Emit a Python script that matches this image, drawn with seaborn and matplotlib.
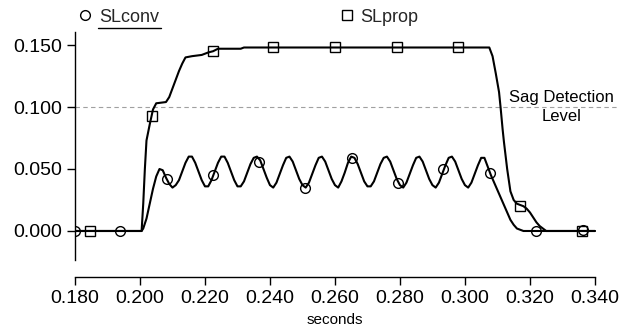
import numpy as np
import pandas as pd
import matplotlib
matplotlib.use("Agg")
import matplotlib.pyplot as plt
import seaborn as sns
from matplotlib.lines import Line2D
from matplotlib.ticker import FormatStrFormatter

# SLconv trace (seconds, value)
conv_t = [0.180, 0.200, 0.2005, 0.201, 0.202, 0.203, 0.204, 0.205, 0.206, 0.207,
          0.208, 0.209, 0.210, 0.211, 0.212, 0.213, 0.214, 0.215, 0.216, 0.217,
          0.218, 0.219, 0.220, 0.221, 0.222, 0.223, 0.224, 0.225, 0.226, 0.227,
          0.228, 0.229, 0.230, 0.231, 0.232, 0.233, 0.234, 0.235, 0.236, 0.237,
          0.238, 0.239, 0.240, 0.241, 0.242, 0.243, 0.244, 0.245, 0.246, 0.247,
          0.248, 0.249, 0.250, 0.251, 0.252, 0.253, 0.254, 0.255, 0.256, 0.257,
          0.258, 0.259, 0.260, 0.261, 0.262, 0.263, 0.264, 0.265, 0.266, 0.267,
          0.268, 0.269, 0.270, 0.271, 0.272, 0.273, 0.274, 0.275, 0.276, 0.277,
          0.278, 0.279, 0.280, 0.281, 0.282, 0.283, 0.284, 0.285, 0.286, 0.287,
          0.288, 0.289, 0.290, 0.291, 0.292, 0.293, 0.294, 0.295, 0.296, 0.297,
          0.298, 0.299, 0.300, 0.301, 0.302, 0.303, 0.304, 0.305, 0.306, 0.307,
          0.308, 0.309, 0.310, 0.311, 0.312, 0.313, 0.314, 0.315, 0.316, 0.317,
          0.318, 0.340]
conv_v = [0.000, 0.000, 0.000, 0.002, 0.010, 0.022, 0.034, 0.044, 0.050, 0.049,
          0.043, 0.038, 0.035, 0.037, 0.041, 0.048, 0.055, 0.060, 0.060, 0.055,
          0.048, 0.041, 0.036, 0.036, 0.041, 0.048, 0.055, 0.060, 0.060, 0.055,
          0.048, 0.041, 0.036, 0.036, 0.040, 0.047, 0.054, 0.059, 0.060, 0.057,
          0.050, 0.043, 0.037, 0.035, 0.039, 0.046, 0.053, 0.059, 0.060, 0.056,
          0.049, 0.042, 0.037, 0.035, 0.039, 0.046, 0.053, 0.059, 0.060, 0.056,
          0.049, 0.042, 0.037, 0.035, 0.040, 0.047, 0.055, 0.060, 0.059, 0.054,
          0.047, 0.040, 0.036, 0.036, 0.040, 0.047, 0.054, 0.059, 0.060, 0.056,
          0.049, 0.042, 0.037, 0.035, 0.039, 0.046, 0.053, 0.059, 0.060, 0.056,
          0.049, 0.042, 0.037, 0.035, 0.039, 0.046, 0.053, 0.059, 0.060, 0.056,
          0.049, 0.042, 0.037, 0.035, 0.039, 0.046, 0.053, 0.059, 0.059, 0.052,
          0.045, 0.039, 0.033, 0.027, 0.021, 0.015, 0.009, 0.005, 0.002, 0.001,
          0.000, 0.000]

# SLprop trace
prop_t = [0.180, 0.2005, 0.201, 0.2015, 0.202, 0.203, 0.204, 0.205, 0.208, 0.209,
          0.210, 0.211, 0.212, 0.213, 0.214, 0.216, 0.219, 0.221, 0.2225, 0.224,
          0.231, 0.232, 0.3075, 0.3085, 0.3095, 0.3105, 0.311, 0.3116, 0.312, 0.313,
          0.314, 0.315, 0.316, 0.317, 0.318, 0.319, 0.320, 0.321, 0.322, 0.323,
          0.324, 0.325, 0.340]
prop_v = [0.000, 0.000, 0.022, 0.050, 0.073, 0.086, 0.098, 0.103, 0.104, 0.108,
          0.115, 0.122, 0.129, 0.135, 0.140, 0.141, 0.142, 0.144, 0.145, 0.147,
          0.147, 0.148, 0.148, 0.141, 0.127, 0.112, 0.099, 0.082, 0.072, 0.050,
          0.032, 0.025, 0.022, 0.021, 0.020, 0.018, 0.015, 0.011, 0.007, 0.004,
          0.002, 0.000, 0.000]

# marker symbols on the traces
conv_mark_t = [0.180, 0.194, 0.2082, 0.2226, 0.2366, 0.2509, 0.2651, 0.2793, 0.2933, 0.3077, 0.3220, 0.3362]
conv_mark_v = [0.000, 0.000, 0.042, 0.045, 0.056, 0.035, 0.059, 0.039, 0.050, 0.047, 0.000, 0.001]
prop_mark_t = [0.1845, 0.2036, 0.2225, 0.2409, 0.2600, 0.2790, 0.2980, 0.3169, 0.3360]
prop_mark_v = [0.000, 0.093, 0.145, 0.148, 0.148, 0.148, 0.148, 0.020, 0.000]

sag_level = 0.100
x_ticks = [0.18, 0.20, 0.22, 0.24, 0.26, 0.28, 0.30, 0.32, 0.34]
y_ticks = [0.000, 0.050, 0.100, 0.150]

sns.set_style("ticks")
plt.rcParams['font.family'] = ['Liberation Sans', 'DejaVu Sans']

W, H = 631, 330
fig = plt.figure(figsize=(W / 100, H / 100), dpi=100)
ax = fig.add_axes([75 / W, 1 - 260 / H, (617 - 75) / W, (260 - 32) / H])

df_conv = pd.DataFrame({'t': conv_t, 'v': conv_v})
df_prop = pd.DataFrame({'t': prop_t, 'v': prop_v})
sns.lineplot(data=df_conv, x='t', y='v', ax=ax, color='black', lw=1.5,
             estimator=None, sort=False)
sns.lineplot(data=df_prop, x='t', y='v', ax=ax, color='black', lw=1.5,
             estimator=None, sort=False)

ax.plot(conv_mark_t, conv_mark_v, ls='none', marker='o', ms=7, mfc='none',
        mec='black', mew=1.0, zorder=5)
ax.plot(prop_mark_t, prop_mark_v, ls='none', marker='s', ms=7, mfc='none',
        mec='black', mew=1.0, zorder=5)

ax.axhline(sag_level, color='#a0a0a0', lw=0.8, ls=(0, (4, 3)), zorder=0)
ax.text(0.3297, sag_level, 'Sag Detection\nLevel', ha='center', va='center',
        fontsize=12, linespacing=1.3, color='black')

ax.set_xlim(0.18, 0.3468)
ax.set_ylim(-0.0234, 0.1605)
ax.set_xticks(x_ticks)
ax.set_yticks(y_ticks)
ax.xaxis.set_major_formatter(FormatStrFormatter('%.3f'))
ax.yaxis.set_major_formatter(FormatStrFormatter('%.3f'))
ax.tick_params(axis='both', labelsize=14, length=6, width=1.0, color='black',
               labelcolor='black', pad=3)

for s in ['top', 'right']:
    ax.spines[s].set_visible(False)
for s in ['left', 'bottom']:
    ax.spines[s].set_color('black')
    ax.spines[s].set_linewidth(1.0)
ax.spines['bottom'].set_position(('outward', 12.5))
ax.spines['bottom'].set_bounds(0.18, 0.34)

ax.set_ylabel('')
ax.set_xlabel('seconds', fontsize=11, color='black')
ax.xaxis.set_label_coords((335 - 75) / (617 - 75), -(320 - 260) / (260 - 32))
ax.xaxis.label.set_va('center')

handles = [Line2D([], [], ls='none', marker='o', ms=7, mfc='none', mec='black', mew=1.0),
           Line2D([], [], ls='none', marker='s', ms=7, mfc='none', mec='black', mew=1.0)]
fig.legend(handles, ['SLconv', 'SLprop'], loc='center left',
           bbox_to_anchor=(78 / W, 1 - 17 / H), ncol=2, frameon=False,
           fontsize=13, handlelength=0.8, handletextpad=0.35,
           columnspacing=10.0, borderpad=0, borderaxespad=0)
fig.add_artist(Line2D([98 / W, 161 / W], [1 - 28 / H, 1 - 28 / H],
                      color='black', lw=1.0))

fig.savefig('out.png', dpi=100)
